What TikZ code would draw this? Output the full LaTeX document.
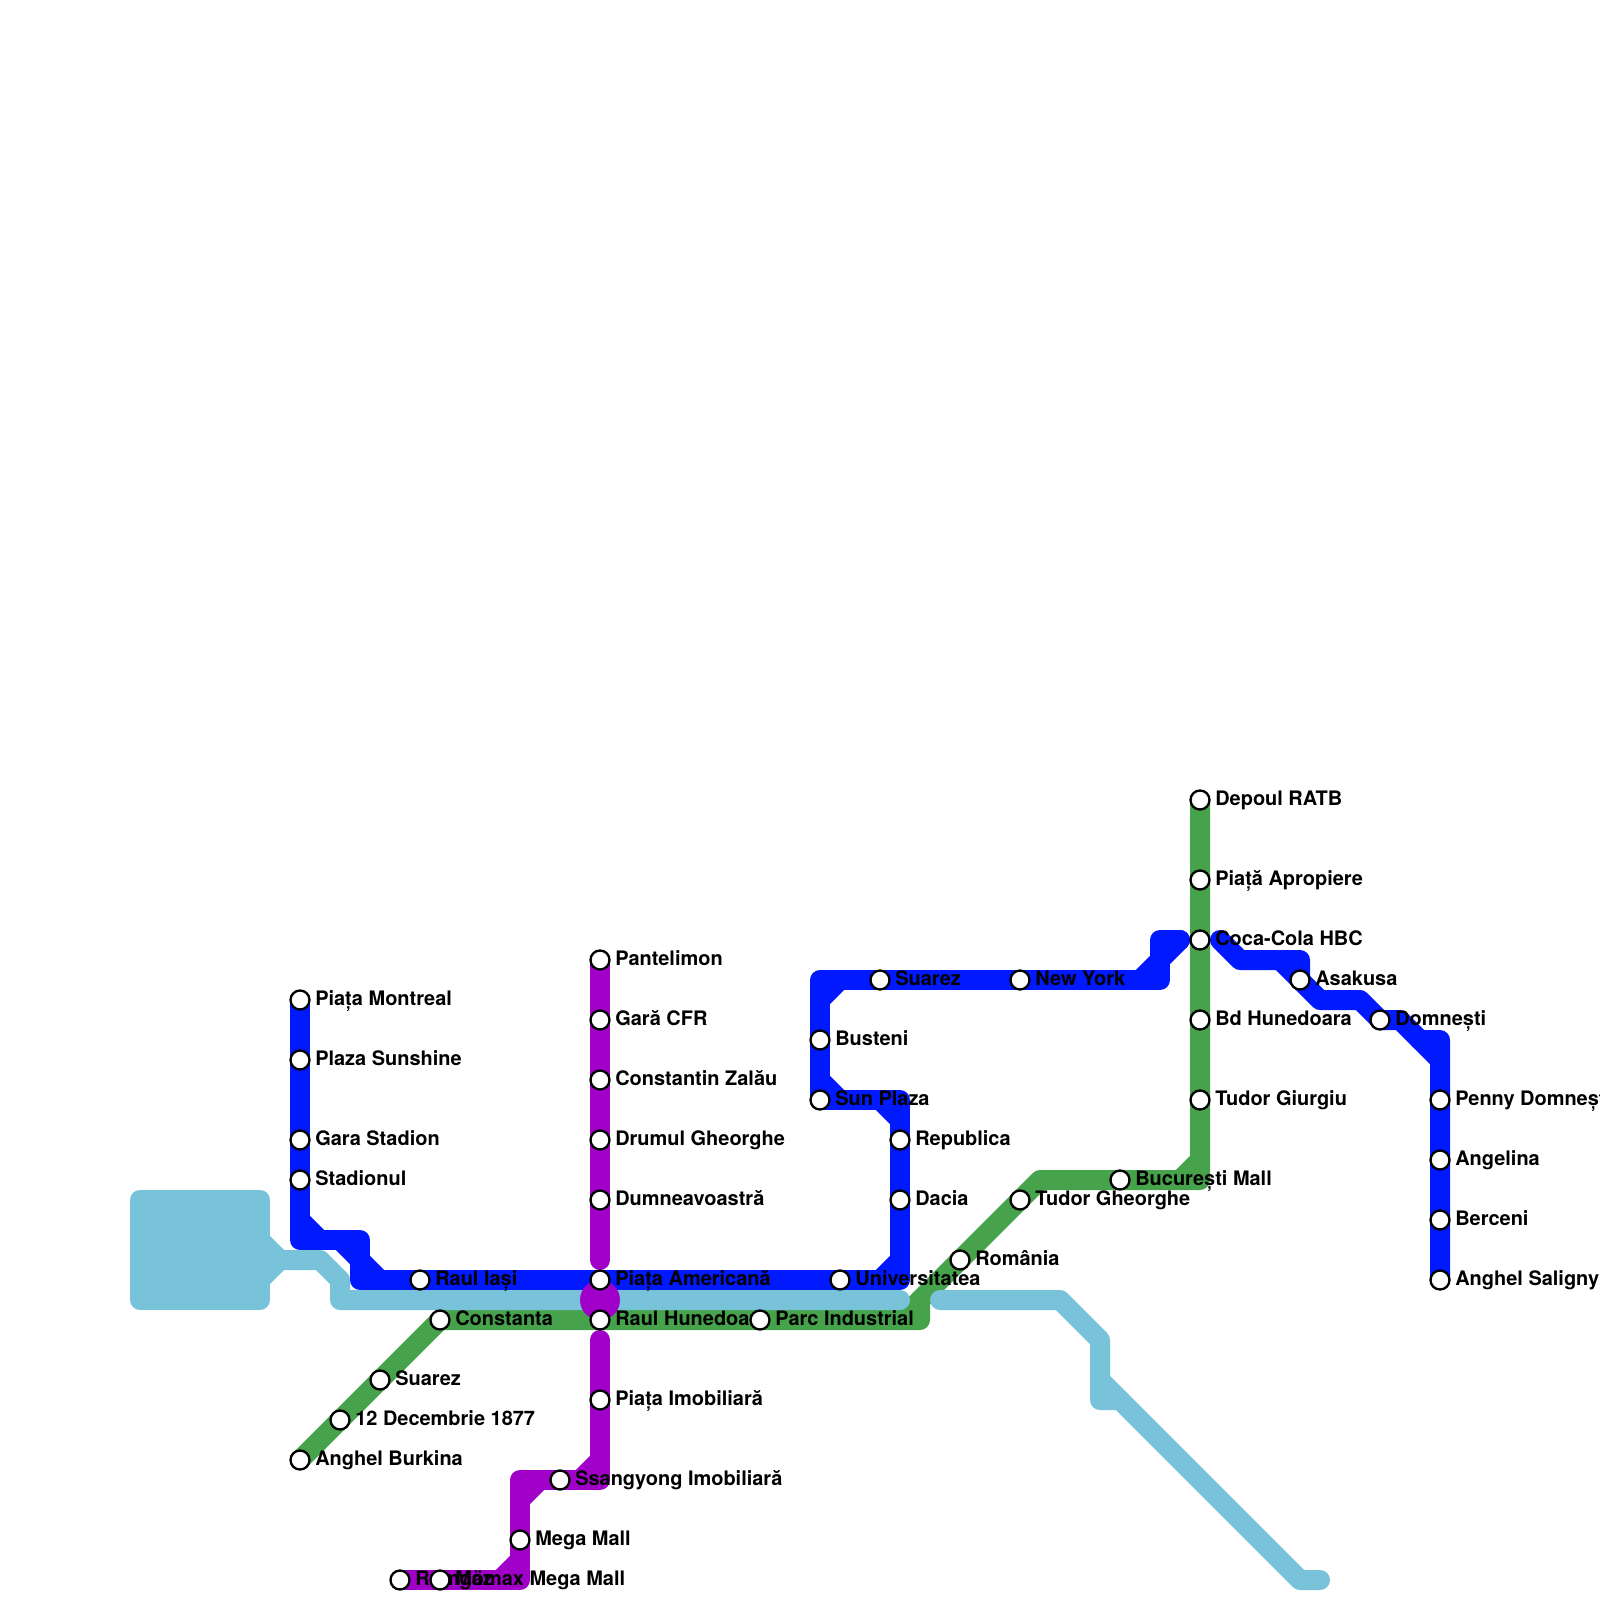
\documentclass[tikz,border=0pt]{standalone}
\usepackage{fontspec}
\setmainfont{TeX Gyre Heros}
\usetikzlibrary{backgrounds}
\definecolor{azul}{RGB}{0,25,255}
\definecolor{verde}{RGB}{70,163,75}
\definecolor{morado}{RGB}{160,0,200}
\definecolor{celeste}{RGB}{120,194,218}
\begin{document}
\begin{tikzpicture}[
        x=0.5cm, y=-0.5cm,
        parada/.style={circle, draw=black, fill=white, line width=0.058cm, minimum size=0.475cm, inner sep=0pt},
        rotulo/.style={anchor=base west, inner sep=0pt, font=\fontsize{14.2}{17}\selectfont\bfseries},
        linea/.style={line width=0.5cm, line join=round, line cap=round}
    ]
    \useasboundingbox (0,0) rectangle (80,80);

    % --- PARADAS AZUL ---
    \node[parada] (A1) at (15,50) {};
    \node[parada] (A2) at (15,53) {};
    \node[parada] (A3) at (15,57) {};
    \node[parada] (A4) at (15,59) {};
    \node[parada] (A5) at (21,64) {};
    \node[parada] (A6) at (30,64) {};
    \node[parada] (A7) at (42,64) {};
    \node[parada] (A8) at (45,60) {};
    \node[parada] (A9) at (45,57) {};
    \node[parada] (A10) at (41,55) {};
    \node[parada] (A11) at (41,52) {};
    \node[parada] (A12) at (44,49) {};
    \node[parada] (A13) at (51,49) {};
    \node[parada] (A14) at (65,49) {};
    \node[parada] (A15) at (69,51) {};
    \node[parada] (A16) at (72,55) {};
    \node[parada] (A17) at (72,58) {};
    \node[parada] (A18) at (72,61) {};
    \node[parada] (A19) at (72,64) {};

    % --- PARADAS VERDE ---
    \node[parada] (V1) at (60,40) {};
    \node[parada] (V2) at (60,44) {};
    \node[parada] (V3) at (60,47) {};
    \node[parada] (V4) at (60,51) {};
    \node[parada] (V5) at (60,55) {};
    \node[parada] (V6) at (56,59) {};
    \node[parada] (V7) at (51,60) {};
    \node[parada] (V8) at (48,63) {};
    \node[parada] (V9) at (38,66) {};
    \node[parada] (V10) at (30,66) {};
    \node[parada] (V11) at (22,66) {};
    \node[parada] (V12) at (19,69) {};
    \node[parada] (V13) at (17,71) {};
    \node[parada] (V14) at (15,73) {};

    % --- PARADAS MORADO ---
    \node[parada] (M1) at (30,48) {};
    \node[parada] (M2) at (30,51) {};
    \node[parada] (M3) at (30,54) {};
    \node[parada] (M4) at (30,57) {};
    \node[parada] (M5) at (30,60) {};
    \node[parada] (M6) at (30,70) {};
    \node[parada] (M7) at (28,74) {};
    \node[parada] (M8) at (26,77) {};
    \node[parada] (M9) at (22,79) {};
    \node[parada] (M10) at (20,79) {};

    % --- ESQUINAS ---
    \coordinate (a1) at (15,62);
    \coordinate (a2) at (18,62);
    \coordinate (a3) at (18,64);
    \coordinate (a4) at (45,64);
    \coordinate (a5) at (45,55);
    \coordinate (a6) at (41,49);
    \coordinate (a7) at (58,49);
    \coordinate (a8) at (58,47);
    \coordinate (a9) at (59,47);
    \coordinate (a10) at (61,47);
    \coordinate (a11) at (62,48);
    \coordinate (a12) at (65,48);
    \coordinate (a13) at (66,50);
    \coordinate (a14) at (68,50);
    \coordinate (a15) at (70,51);
    \coordinate (a16) at (71,52);
    \coordinate (a17) at (72,52);
    \coordinate (v1) at (60,59);
    \coordinate (v2) at (52,59);
    \coordinate (v3) at (46,65);
    \coordinate (v4) at (46,66);
    \coordinate (m1) at (30,63);
    \coordinate (m2) at (30,67);
    \coordinate (m3) at (30,74);
    \coordinate (m4) at (26,74);
    \coordinate (m5) at (26,79);
    \coordinate (c1) at (13,62);
    \coordinate (c2) at (13,64);
    \coordinate (c3) at (14,63);
    \coordinate (c4) at (16,63);
    \coordinate (c5) at (17,64);
    \coordinate (c6) at (17,65);
    \coordinate (c7) at (45,65);
    \coordinate (c8) at (47,65);
    \coordinate (c9) at (53,65);
    \coordinate (c10) at (55,67);
    \coordinate (c11) at (55,70);
    \coordinate (c12) at (56,70);
    \coordinate (c13) at (65,79);
    \coordinate (c14) at (66,79);

    \begin{scope}[on background layer]
        % --- LINEA VERDE ---
        \draw[linea, draw=verde] (V1.center) -- (V2.center) -- (V3.center) -- (V4.center) -- (V5.center) -- (v1) -- (V6.center) -- (v2) -- (V7.center) -- (V8.center) -- (v3) -- (v4) -- (V9.center) -- (V10.center) -- (V11.center) -- (V12.center) -- (V13.center) -- (V14.center);
        \draw[linea, draw=verde] (v1) ++(-1,0) -- ++(1,-1);
        \draw[linea, draw=verde] (v4) ++(-1,0) -- ++(1,-1);

        % --- LINEA CELESTE ---
        \draw[linea, draw=celeste, fill=celeste] (7,60) rectangle (13,65);
        \draw[linea, draw=celeste] (c1) -- (c3);
        \draw[linea, draw=celeste] (c2) -- (c3) -- (c4) -- (c5) -- (c6) -- (c7);
        \draw[linea, draw=celeste] (c8) -- (c9) -- (c10) -- (c11) -- (c12) -- (c13) -- (c14);
        \draw[linea, draw=celeste] (c11) ++(0,-1) -- (c12);

        % --- LINEA AZUL ---
        \draw[linea, draw=azul] (A1.center) -- (A2.center) -- (A3.center) -- (A4.center) -- (a1) -- (a2) -- (a3) -- (A5.center) -- (A6.center) -- (A7.center) -- (a4) -- (A8.center) -- (A9.center) -- (a5) -- (A10.center) -- (A11.center) -- (a6) -- (A12.center) -- (A13.center) -- (a7) -- (a8) -- (a9);
        \draw[linea, draw=azul] (a1) ++(0,-1) -- ++(1,1);
        \draw[linea, draw=azul] (a2) ++(-1,0) -- ++(2,2);
        \draw[linea, draw=azul] (a4) ++(-1,0) -- ++(1,-1);
        \draw[linea, draw=azul] (a5) ++(-1,0) -- ++(1,1);
        \draw[linea, draw=azul] (A10) ++(0,-1) -- ++(1,1);
        \draw[linea, draw=azul] (a6) ++(0,1) -- ++(1,-1);
        \draw[linea, draw=azul] (a7) ++(-1,0) -- (a9);
        \draw[linea, draw=azul] (a10) -- (a11) -- (a12) -- (A14.center) -- (a13) -- (a14) -- (A15.center) -- (a15) -- (a16) -- (a17) -- (A16.center) -- (A17.center) -- (A18.center) -- (A19.center);
        \draw[linea, draw=azul] (a12) ++(-1,0) -- (A14.center);
        \draw[linea, draw=azul] (a16) -- ++(1,1);

        % --- LINEA MORADO ---
        \draw[linea, draw=morado] (M1.center) -- (M2.center) -- (M3.center) -- (M4.center) -- (M5.center) -- (m1);
        \draw[linea, draw=morado] (m2) -- (M6.center) -- (m3) -- (M7.center) -- (m4) -- (M8.center) -- (m5) -- (M9.center) -- (M10.center);
        \draw[linea, draw=morado] (m3) ++(-1,0) -- ++(1,-1);
        \draw[linea, draw=morado] (m4) ++(0,1) -- ++(1,-1);
        \draw[linea, draw=morado] (m5) ++(-1,0) -- ++(1,-1);
        \node[circle, fill=morado, minimum size=1cm, inner sep=0pt] (nudo) at (30,65) {};

        % --- ROTULOS ---
        \node[rotulo] at (15.75,50.25) {Piața Montreal};
        \node[rotulo] at (15.75,53.25) {Plaza Sunshine};
        \node[rotulo] at (15.75,57.25) {Gara Stadion};
        \node[rotulo] at (15.75,59.25) {Stadionul};
        \node[rotulo] at (21.75,64.25) {Raul Iași};
        \node[rotulo] at (30.75,64.25) {Piața Americană};
        \node[rotulo] at (42.75,64.25) {Universitatea};
        \node[rotulo] at (45.75,60.25) {Dacia};
        \node[rotulo] at (45.75,57.25) {Republica};
        \node[rotulo] at (41.75,55.25) {Sun Plaza};
        \node[rotulo] at (41.75,52.25) {Busteni};
        \node[rotulo] at (44.75,49.25) {Suarez};
        \node[rotulo] at (51.75,49.25) {New York};
        \node[rotulo] at (65.75,49.25) {Asakusa};
        \node[rotulo] at (69.75,51.25) {Domnești};
        \node[rotulo] at (72.75,55.25) {Penny Domnești};
        \node[rotulo] at (72.75,58.25) {Angelina};
        \node[rotulo] at (72.75,61.25) {Berceni};
        \node[rotulo] at (72.75,64.25) {Anghel Saligny};

        \node[rotulo] at (60.75,40.25) {Depoul RATB};
        \node[rotulo] at (60.75,44.25) {Piață Apropiere};
        \node[rotulo] at (60.75,47.25) {Coca-Cola HBC};
        \node[rotulo] at (60.75,51.25) {Bd Hunedoara};
        \node[rotulo] at (60.75,55.25) {Tudor Giurgiu};
        \node[rotulo] at (56.75,59.25) {București Mall};
        \node[rotulo] at (51.75,60.25) {Tudor Gheorghe};
        \node[rotulo] at (48.75,63.25) {România};
        \node[rotulo] at (38.75,66.25) {Parc Industrial};
        \node[rotulo] at (30.75,66.25) {Raul Hunedoara};
        \node[rotulo] at (22.75,66.25) {Constanta};
        \node[rotulo] at (19.75,69.25) {Suarez};
        \node[rotulo] at (17.75,71.25) {12 Decembrie 1877};
        \node[rotulo] at (15.75,73.25) {Anghel Burkina};

        \node[rotulo] at (30.75,48.25) {Pantelimon};
        \node[rotulo] at (30.75,51.25) {Gară CFR};
        \node[rotulo] at (30.75,54.25) {Constantin Zalău};
        \node[rotulo] at (30.75,57.25) {Drumul Gheorghe};
        \node[rotulo] at (30.75,60.25) {Dumneavoastră};
        \node[rotulo] at (30.75,70.25) {Piața Imobiliară};
        \node[rotulo] at (28.75,74.25) {Ssangyong Imobiliară};
        \node[rotulo] at (26.75,77.25) {Mega Mall};
        \node[rotulo] at (22.75,79.25) {Mömax Mega Mall};
        \node[rotulo] at (20.75,79.25) {Romgaz};
    \end{scope}
\end{tikzpicture}
\end{document}
